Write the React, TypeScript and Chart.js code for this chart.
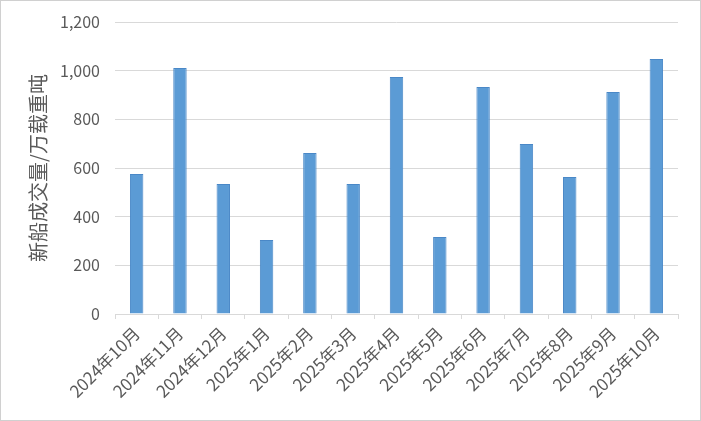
import React, { useEffect, useRef } from "react";
import { Chart, registerables } from "chart.js";

Chart.register(...registerables);

const categories = [
  "2024年10月", "2024年11月", "2024年12月", "2025年1月", "2025年2月", "2025年3月",
  "2025年4月", "2025年5月", "2025年6月", "2025年7月", "2025年8月", "2025年9月", "2025年10月",
];
const values = [575, 1011, 534, 304, 662, 534, 974, 316, 933, 699, 563, 912, 1048];
const yTitle = "新船成交量/万载重吨";

export default function App() {
  const ref = useRef<HTMLCanvasElement | null>(null);
  useEffect(() => {
    document.body.style.margin = "0";
    const ctx = ref.current!;
    const font = "'Microsoft YaHei', 'Noto Sans CJK SC', sans-serif";
    const chart = new Chart(ctx, {
      type: "bar",
      data: {
        labels: categories,
        datasets: [
          {
            data: values,
            backgroundColor: "#5b9bd5",
            borderColor: "#4a88c7",
            borderWidth: 1,
            categoryPercentage: 1,
            barPercentage: 0.31,
          },
        ],
      },
      options: {
        animation: false,
        responsive: false,
        maintainAspectRatio: false,
        layout: { padding: { top: 21, right: 22, bottom: 14, left: 15 } },
        plugins: { legend: { display: false }, tooltip: { enabled: false } },
        scales: {
          x: {
            grid: {
              offset: true,
              drawOnChartArea: false,
              drawTicks: true,
              tickLength: 5,
              color: "#d9d9d9",
            },
            border: { display: true, color: "#d9d9d9", width: 1 },
            ticks: {
              color: "#595959",
              font: { family: font, size: 17 },
              maxRotation: 45,
              minRotation: 45,
              autoSkip: false,
              padding: 4,
            },
            afterFit: (s: any) => {
              s.height = 92;
              s.paddingLeft = 0;
              s.paddingRight = 0;
              s.paddingTop = 0;
              s.paddingBottom = 0;
            },
          },
          y: {
            min: 0,
            max: 1200,
            grid: { color: "#d9d9d9", drawTicks: false },
            border: { display: false },
            ticks: {
              stepSize: 200,
              color: "#595959",
              font: { family: font, size: 16, lineHeight: 1 },
              padding: 15,
              callback: (v: any) => Number(v).toLocaleString("en-US"),
            },
            title: {
              display: true,
              text: yTitle,
              color: "#595959",
              font: { family: font, size: 20 },
              padding: { top: 10, bottom: 0 },
            },
            afterFit: (s: any) => {
              s.width = 99;
              s.paddingTop = 0;
              s.paddingBottom = 0;
              s.paddingLeft = 0;
              s.paddingRight = 0;
            },
          },
        },
      },
    });
    return () => chart.destroy();
  }, []);
  return (
    <div
      style={{
        position: "fixed",
        left: 0,
        top: 0,
        width: 701,
        height: 421,
        boxSizing: "border-box",
        border: "1px solid #d0d0d0",
        background: "#fff",
      }}
    >
      <canvas ref={ref} width={699} height={419} style={{ display: "block" }} />
    </div>
  );
}
